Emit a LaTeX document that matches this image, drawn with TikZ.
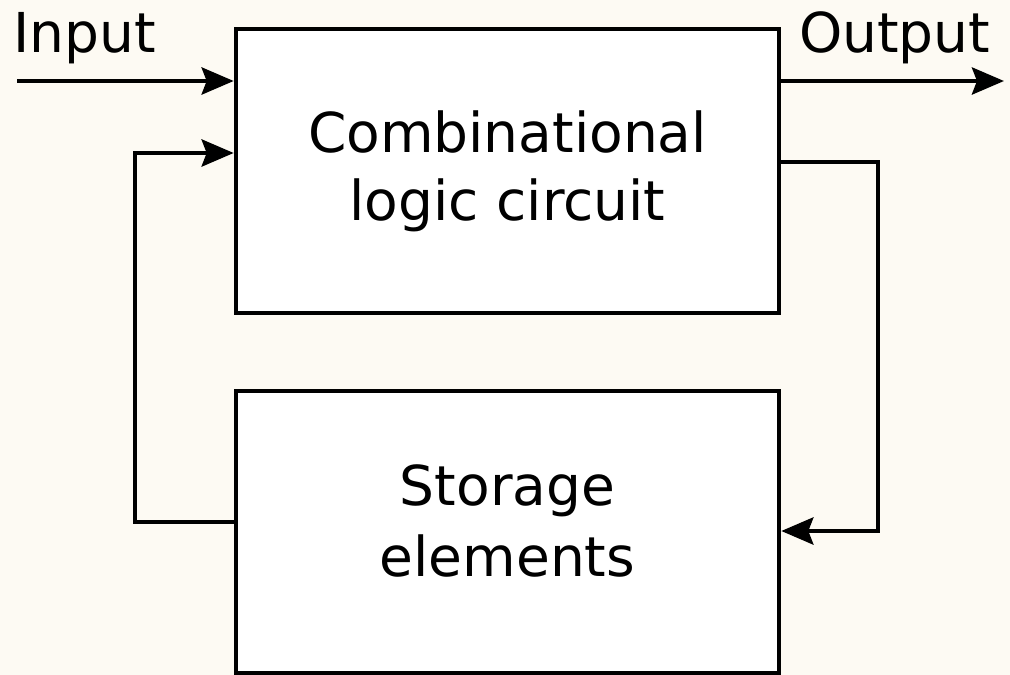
\documentclass[tikz,border=0pt]{standalone}
\usepackage{fontspec}
\setmainfont{DejaVu Sans}
\usetikzlibrary{arrows.meta}
\definecolor{paper}{HTML}{FDFAF3}
\tikzset{
  block/.style={draw=black, fill=white, line width=4.6pt, rectangle, inner sep=0pt},
  lbl/.style={inner sep=0pt, font=\fontsize{55}{69}\selectfont},
  wire/.style={draw=black, line width=4.6pt, line join=miter},
  arr/.style={wire, -{Stealth[length=32pt, width=27pt, inset=5pt]}}
}
\begin{document}
\begin{tikzpicture}[x=1pt, y=-1pt]
  % page and background
  \fill[paper] (0,0) rectangle (1010,675);
  \useasboundingbox (0,0) rectangle (1010,675);

  % the two blocks
  \node[block, minimum width=543pt, minimum height=284pt] (comb) at (507.5,171) {};
  \node[block, minimum width=543pt, minimum height=282pt] (store) at (507.5,532) {};

  % block texts
  \node[lbl, anchor=base] (comb1) at (507.5,152) {Combinational};
  \node[lbl, anchor=base] (comb2) at (507.5,220) {logic circuit};
  \node[lbl, anchor=base] (store1) at (507.5,505) {Storage};
  \node[lbl, anchor=base] (store2) at (507.5,576) {elements};

  % input / output labels
  \node[lbl, anchor=base west] (inlbl) at (13,52) {Input};
  \node[lbl, anchor=base west] (outlbl) at (799,52) {Output};

  % wire end points
  \coordinate (in) at (17,81);
  \coordinate (out) at (1004,81);
  \coordinate (lb) at (135,522);
  \coordinate (lt) at (135,153);
  \coordinate (rt) at (878,162);
  \coordinate (rb) at (878,531);

  % connectors
  \draw[arr] (in) -- (in -| comb.west);
  \draw[arr] (out -| comb.east) -- (out);
  \draw[arr] (lb -| store.west) -- (lb) -- (lt) -- (lt -| comb.west);
  \draw[arr] (rt -| comb.east) -- (rt) -- (rb) -- (rb -| store.east);
\end{tikzpicture}
\end{document}
